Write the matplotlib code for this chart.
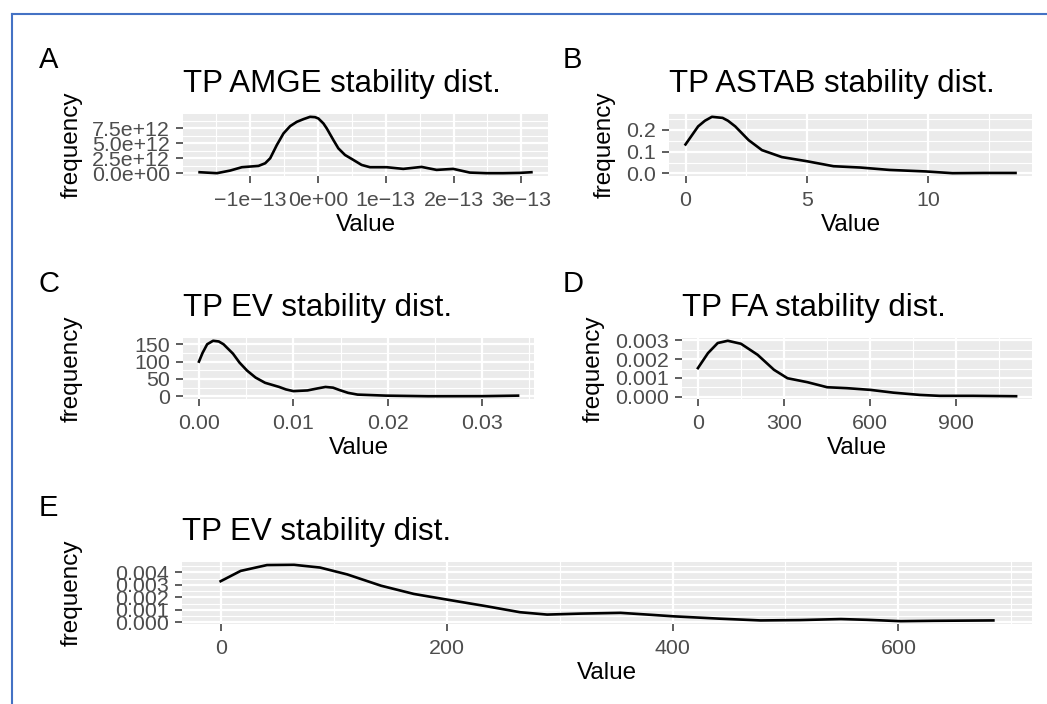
import numpy as np
import matplotlib.pyplot as plt
from matplotlib.lines import Line2D
from matplotlib.ticker import FixedLocator

plt.rcParams['font.family'] = ['Liberation Sans', 'DejaVu Sans']

# ---- data (density curves) ----
amge_x = np.array([-1.741, -1.486, -1.290, -1.118, -0.873, -0.775, -0.701, -0.603, -0.505,
                   -0.407, -0.309, -0.211, -0.113, -0.040, 0.009, 0.083, 0.132, 0.230, 0.303,
                   0.401, 0.524, 0.646, 0.769, 1.014, 1.259, 1.529, 1.750, 1.995, 2.240,
                   2.485, 2.730, 2.975, 3.147]) * 1e-13
amge_y = np.array([0.16, 0.0, 0.44, 1.0, 1.22, 1.66, 2.5, 4.72, 6.66, 7.88, 8.6, 9.05, 9.44,
                   9.38, 9.16, 8.33, 7.5, 5.55, 4.16, 3.05, 2.22, 1.38, 1.0, 1.0, 0.72, 1.05,
                   0.55, 0.72, 0.1, 0.0, 0.0, 0.05, 0.16]) * 1e12

astab_x = [0.0, 0.52, 0.80, 1.09, 1.53, 1.75, 2.05, 2.6, 3.15, 3.97, 5.0, 6.1, 7.2, 8.4,
           9.9, 11.0, 12.3, 13.6]
astab_y = [0.133, 0.216, 0.242, 0.26, 0.255, 0.242, 0.216, 0.153, 0.107, 0.075, 0.056,
           0.033, 0.027, 0.016, 0.009, 0.001, 0.002, 0.002]

ev_x = [0.0, 0.00038, 0.00087, 0.0015, 0.0021, 0.0026, 0.0036, 0.0043, 0.0051, 0.006, 0.007,
        0.0085, 0.0092, 0.01, 0.0115, 0.0126, 0.0134, 0.0142, 0.0149, 0.0158, 0.0168, 0.0198,
        0.0243, 0.03, 0.0338]
ev_y = [100, 125, 150, 160, 158, 150, 123, 97, 74, 54, 39, 27, 20, 15, 17, 23, 27, 25, 18,
        10, 5, 2, 0.3, 0.5, 2]

fa_x = [0, 35, 69, 104, 150, 208, 265, 312, 381, 450, 519, 600, 681, 773, 842, 958, 1108]
fa_y = [0.00152, 0.00232, 0.00286, 0.00298, 0.00282, 0.00223, 0.00143, 0.00098, 0.00077,
        0.0005, 0.00045, 0.00036, 0.00021, 0.00009, 0.00004, 0.00004, 0.00002]

ev2_x = [0, 17.7, 41, 65, 88, 112, 142, 171, 200, 236, 265, 289, 319, 354, 383, 401, 442,
         478, 513, 549, 572, 602, 631, 684]
ev2_y = [0.00329, 0.00412, 0.00459, 0.00461, 0.00439, 0.00384, 0.00293, 0.00227, 0.00182,
         0.00127, 0.0008, 0.00061, 0.00069, 0.00075, 0.00058, 0.00047, 0.00028, 0.00014,
         0.00017, 0.00025, 0.00019, 0.00008, 0.00011, 0.00014]

# tick breaks and labels
amge_xticks = [-1e-13, 0, 1e-13, 2e-13, 3e-13]
amge_xlabels = ['\u22121e\u221213', '0e+00', '1e\u221213', '2e\u221213', '3e\u221213']
amge_yticks = [0, 2.5e12, 5e12, 7.5e12]
amge_ylabels = ['0.0e+00', '2.5e+12', '5.0e+12', '7.5e+12']

astab_xticks = [0, 5, 10]
astab_yticks = [0.0, 0.1, 0.2]
astab_ylabels = ['0.0', '0.1', '0.2']

ev_xticks = [0.0, 0.01, 0.02, 0.03]
ev_xlabels = ['0.00', '0.01', '0.02', '0.03']
ev_yticks = [0, 50, 100, 150]

fa_xticks = [0, 300, 600, 900]
fa_yticks = [0.0, 0.001, 0.002, 0.003]
fa_ylabels = ['0.000', '0.001', '0.002', '0.003']

ev2_xticks = [0, 200, 400, 600]
ev2_yticks = [0.0, 0.001, 0.002, 0.003, 0.004]
ev2_ylabels = ['0.000', '0.001', '0.002', '0.003', '0.004']

W, H = 1047, 704


def rect(l, t, r, b):
    return [l / W, 1 - b / H, (r - l) / W, (b - t) / H]


def expand(v):
    lo, hi = min(v), max(v)
    d = 0.05 * (hi - lo)
    return lo - d, hi + d


def minors(ticks, lim):
    step = ticks[1] - ticks[0]
    out = []
    t = ticks[0] - step / 2
    while t < lim[1]:
        if t > lim[0]:
            out.append(t)
        t += step
    return out


def panel(fig, box, x, y, title, xt, xl, yt, yl, ylab_x):
    ax = fig.add_axes(rect(*box))
    ax.set_facecolor('#EBEBEB')
    ax.plot(x, y, color='black', lw=1.9, solid_joinstyle='round')
    xlim = expand(x)
    ylim = expand(y)
    ax.set_xlim(xlim)
    ax.set_ylim(ylim)
    ax.set_xticks(xt)
    ax.set_xticklabels(xl if xl else [str(v) for v in xt])
    ax.set_yticks(yt)
    ax.set_yticklabels(yl if yl else [str(v) for v in yt])
    ax.xaxis.set_minor_locator(FixedLocator(minors(xt, xlim)))
    ax.yaxis.set_minor_locator(FixedLocator(minors(yt, ylim)))
    ax.grid(which='major', color='white', lw=1.6)
    ax.grid(which='minor', color='white', lw=0.8)
    ax.set_axisbelow(True)
    for s in ax.spines.values():
        s.set_visible(False)
    ax.tick_params(which='major', direction='out', length=5, width=1.1, color='#333333',
                   labelcolor='#4D4D4D', labelsize=15.4, pad=4.5)
    ax.tick_params(axis='x', which='major', pad=5.5)
    ax.tick_params(which='minor', length=0)
    ax.set_title(title, loc='left', fontsize=22.5, pad=16)
    ax.set_xlabel('Value', fontsize=17.5, labelpad=3.5)
    ax.set_ylabel('frequency', fontsize=17.5)
    cy = 1 - (box[1] + box[3]) / 2 / H
    ax.yaxis.set_label_coords(ylab_x / W, cy, transform=fig.transFigure)
    ax.yaxis.label.set_va('center')
    return ax


fig = plt.figure(figsize=(W / 100, H / 100), dpi=100)

panel(fig, (183, 114, 548, 176), amge_x, amge_y, 'TP AMGE stability dist.',
      amge_xticks, amge_xlabels, amge_yticks, amge_ylabels, 72)
panel(fig, (669, 114, 1032, 176), astab_x, astab_y, 'TP ASTAB stability dist.',
      astab_xticks, None, astab_yticks, astab_ylabels, 605)
panel(fig, (183, 338, 534, 399), ev_x, ev_y, 'TP EV stability dist.',
      ev_xticks, ev_xlabels, ev_yticks, None, 72)
panel(fig, (682, 338, 1032, 399), fa_x, fa_y, 'TP FA stability dist.',
      fa_xticks, None, fa_yticks, fa_ylabels, 594)
panel(fig, (182, 562, 1032, 624), ev2_x, ev2_y, 'TP EV stability dist.',
      ev2_xticks, None, ev2_yticks, ev2_ylabels, 72)

# panel letters
for letter, lx, ly in [('A', 39, 68), ('B', 563, 68), ('C', 39, 292), ('D', 563, 292), ('E', 39, 516)]:
    fig.text(lx / W, 1 - ly / H, letter, fontsize=21, va='baseline', ha='left')

# frame from the source document
fig.add_artist(Line2D([12 / W, 12 / W], [0, 1 - 14 / H], color='#4472C4', lw=1.5,
                      transform=fig.transFigure))
fig.add_artist(Line2D([12 / W, 1], [1 - 14 / H, 1 - 14 / H], color='#4472C4', lw=1.5,
                      transform=fig.transFigure))

fig.savefig('out.png', dpi=100)
